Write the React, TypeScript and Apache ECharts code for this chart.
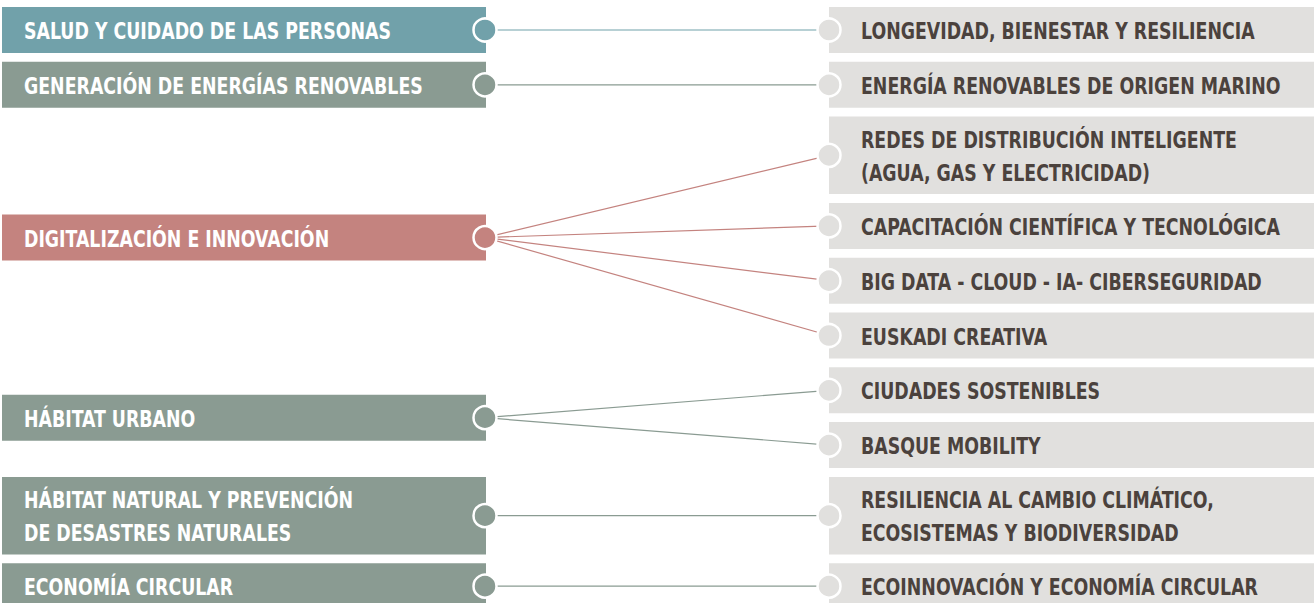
import React, { useEffect, useRef } from "react";
import * as echarts from "echarts";

const leftCategories = [
  "SALUD Y CUIDADO DE LAS PERSONAS",
  "GENERACIÓN DE ENERGÍAS RENOVABLES",
  "DIGITALIZACIÓN E INNOVACIÓN",
  "HÁBITAT URBANO",
  "HÁBITAT NATURAL Y PREVENCIÓN\nDE DESASTRES NATURALES",
  "ECONOMÍA CIRCULAR",
];
const leftColors = ["#71a1aa", "#8a9b92", "#c4837f", "#8a9b92", "#8a9b92", "#8a9b92"];
const rightCategories = [
  "LONGEVIDAD, BIENESTAR Y RESILIENCIA",
  "ENERGÍA RENOVABLES DE ORIGEN MARINO",
  "REDES DE DISTRIBUCIÓN INTELIGENTE\n(AGUA, GAS Y ELECTRICIDAD)",
  "CAPACITACIÓN CIENTÍFICA Y TECNOLÓGICA",
  "BIG DATA - CLOUD - IA- CIBERSEGURIDAD",
  "EUSKADI CREATIVA",
  "CIUDADES SOSTENIBLES",
  "BASQUE MOBILITY",
  "RESILIENCIA AL CAMBIO CLIMÁTICO,\nECOSISTEMAS Y BIODIVERSIDAD",
  "ECOINNOVACIÓN Y ECONOMÍA CIRCULAR",
];
const links = [[0], [1], [2, 3, 4, 5], [6, 7], [8], [9]];

// ---- layout (styles) ----
const W = 1314;
const H = 603;
const TOP = 7;
const H1 = 46;
const H2 = 77.5;
const GAP = 8.8;
const LEFT_X0 = 2;
const LEFT_X1 = 486;
const RIGHT_X0 = 829;
const RIGHT_X1 = 1314;
const CIRCLE_R = 11.5;
const FONT = "'DejaVu Sans Condensed', 'Liberation Sans Narrow', sans-serif";
const FONT_SIZE = 23;
const TEXT_SCALE_X = 0.84;
const LINE_H = 33;
const BOX_GRAY = "#e1e0de";
const TEXT_DARK = "#4b423d";

const rightTop: number[] = [];
const rightH: number[] = [];
{
  let y = TOP;
  rightCategories.forEach((t) => {
    const h = t.split("\n").length > 1 ? H2 : H1;
    rightTop.push(y);
    rightH.push(h);
    y += h + GAP;
  });
}
const rightCenter = rightTop.map((t, i) => t + rightH[i] / 2);
const leftH = leftCategories.map((t) => (t.split("\n").length > 1 ? H2 : H1));
const leftCenter = links.map((ch) => {
  const a = rightTop[ch[0]];
  const last = ch[ch.length - 1];
  const b = rightTop[last] + rightH[last];
  return (a + b) / 2;
});
const linkData: number[][] = [];
links.forEach((ch, li) => ch.forEach((ri) => linkData.push([li, ri])));

export default function App() {
  const ref = useRef<HTMLDivElement>(null);
  useEffect(() => {
    document.body.style.margin = "0";
    if (!ref.current) return;
    const chart = echarts.init(ref.current, undefined, { renderer: "svg" });

    const nodeRender = (side: "left" | "right") => (params: any, api: any) => {
      const i = api.value(0);
      const isLeft = side === "left";
      const x0 = isLeft ? LEFT_X0 : RIGHT_X0;
      const x1 = isLeft ? LEFT_X1 : RIGHT_X1;
      const cy = isLeft ? leftCenter[i] : rightCenter[i];
      const h = isLeft ? leftH[i] : rightH[i];
      const p0 = api.coord([x0, cy - h / 2]);
      const p1 = api.coord([x1, cy + h / 2]);
      const pc = api.coord([isLeft ? LEFT_X1 - 1 : RIGHT_X0, cy]);
      const fill = isLeft ? leftColors[i] : BOX_GRAY;
      const text = isLeft ? leftCategories[i] : rightCategories[i];
      return {
        type: "group",
        children: [
          {
            type: "rect",
            shape: { x: p0[0], y: p0[1], width: p1[0] - p0[0], height: p1[1] - p0[1] },
            style: { fill },
          },
          {
            type: "text",
            x: p0[0] + (isLeft ? 22 : 32),
            y: pc[1] + 1,
            scaleX: TEXT_SCALE_X,
            style: {
              text,
              x: 0,
              y: 0,
              fill: isLeft ? "#ffffff" : TEXT_DARK,
              fontFamily: FONT,
              fontSize: FONT_SIZE,
              fontWeight: "bold",
              verticalAlign: "middle",
              align: "left",
              lineHeight: LINE_H,
            },
          },
          {
            type: "circle",
            shape: { cx: pc[0], cy: pc[1], r: CIRCLE_R },
            style: { fill, stroke: "#ffffff", lineWidth: 2.5 },
          },
        ],
      };
    };

    chart.setOption({
      animation: false,
      backgroundColor: "#ffffff",
      grid: { left: 0, right: 0, top: 0, bottom: 0 },
      xAxis: { type: "value", min: 0, max: W, show: false },
      yAxis: { type: "value", min: 0, max: H, inverse: true, show: false },
      series: [
        {
          type: "custom",
          name: "links",
          z: 1,
          clip: false,
          data: linkData,
          renderItem: (params: any, api: any) => {
            const li = api.value(0);
            const ri = api.value(1);
            const a = api.coord([LEFT_X1 - 1, leftCenter[li]]);
            const b = api.coord([RIGHT_X0, rightCenter[ri]]);
            return {
              type: "line",
              shape: { x1: a[0], y1: a[1], x2: b[0], y2: b[1] },
              style: { stroke: leftColors[li], lineWidth: 1.2 },
            };
          },
        },
        {
          type: "custom",
          name: "left",
          z: 2,
          clip: false,
          data: leftCategories.map((_, i) => [i]),
          renderItem: nodeRender("left"),
        },
        {
          type: "custom",
          name: "right",
          z: 2,
          clip: false,
          data: rightCategories.map((_, i) => [i]),
          renderItem: nodeRender("right"),
        },
      ],
    });
    return () => chart.dispose();
  }, []);
  return <div ref={ref} style={{ width: W, height: H }} />;
}
